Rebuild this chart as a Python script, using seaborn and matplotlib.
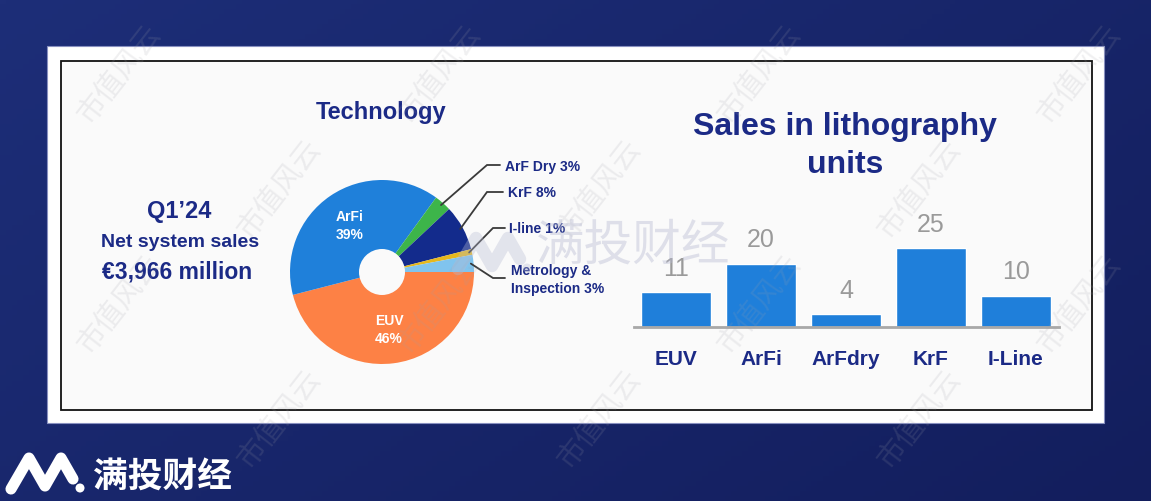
import numpy as np
import matplotlib
matplotlib.use('Agg')
import matplotlib.pyplot as plt
import seaborn as sns
from matplotlib.patches import Rectangle, Circle

# ---------------- data ----------------
tech_labels = ['EUV', 'ArFi', 'ArF Dry', 'KrF', 'I-line', 'Metrology &\nInspection']
tech_share = [46, 39, 3, 8, 1, 3]
tech_colors = ['#fd8145', '#1f80da', '#3db54a', '#132b8c', '#e6b81e', '#80c4ee']
unit_cats = ['EUV', 'ArFi', 'ArFdry', 'KrF', 'I-Line']
unit_values = [11, 20, 4, 25, 10]
headline = ['Q1\u201924', 'Net system sales', '\u20ac3,966 million']

W, H = 1151, 502
NAVY = '#1b2a86'

sns.set_theme(style='white')
plt.rcParams['font.family'] = ['Liberation Sans', 'Noto Sans CJK SC', 'DejaVu Sans']

fig = plt.figure(figsize=(W / 100, H / 100), dpi=100)


def fbox(x, y, w, h):
    return [x / W, 1 - (y + h) / H, w / W, h / H]


# ---------------- background ----------------
bg = fig.add_axes([0, 0, 1, 1])
bg.set_xlim(0, W)
bg.set_ylim(H, 0)
bg.axis('off')
gx, gy = np.meshgrid(np.linspace(0, 1, 200), np.linspace(0, 1, 100))
t = np.clip(0.6 * gx + 0.4 * gy, 0, 1)[..., None]
c0 = np.array([0x1d, 0x2e, 0x78]) / 255
c1 = np.array([0x13, 0x1e, 0x5d]) / 255
grad = c0 * (1 - t) + c1 * t
bg.imshow(grad, extent=[0, W, H, 0], aspect='auto', zorder=0)
bg.add_patch(Rectangle((47, 47), 1057, 377, fc='white', ec='#8890c0', lw=0.8, zorder=1))
bg.add_patch(Rectangle((61, 62), 1031, 349, fc='#fafafa', ec='#111111', lw=1.3, zorder=2))

# ---------------- pie ----------------
PCX, PCY, PR = 382, 273, 92
ax_pie = fig.add_axes(fbox(PCX - 100, PCY - 100, 200, 200))
wedges, _ = ax_pie.pie(tech_share, colors=tech_colors, startangle=0, counterclock=False,
                       radius=1, wedgeprops=dict(linewidth=0))
ax_pie.set_xlim(-100 / PR, 100 / PR)
ax_pie.set_ylim(-100 / PR, 100 / PR)
ax_pie.set_aspect('equal')
ax_pie.axis('off')
ax_pie.add_patch(Circle((0, 0), 23 / PR, fc='#fafafa', ec='none', zorder=5))

# big labels inside wedges
for i in (0, 1):
    w = wedges[i]
    mid = np.deg2rad((w.theta1 + w.theta2) / 2)
    r = 0.62
    ax_pie.text(r * np.cos(mid), r * np.sin(mid), f'{tech_labels[i]}\n{tech_share[i]}%',
                ha='center', va='center', color='white', fontsize=10, fontweight='bold',
                linespacing=1.35, zorder=6)

# ---------------- overlay (pixel coords) ----------------
ov = fig.add_axes([0, 0, 1, 1])
ov.set_xlim(0, W)
ov.set_ylim(H, 0)
ov.axis('off')
ov.patch.set_alpha(0)

# leader lines for small wedges
elbows = {2: (487, 166, 500), 3: (487, 193, 503), 4: (493, 229, 505), 5: (493, 279, 505)}
text_pos = {2: (505, 167), 3: (508, 193), 4: (509, 229), 5: (511, 280)}
for i in (2, 3, 4, 5):
    w = wedges[i]
    mid = np.deg2rad((w.theta1 + w.theta2) / 2)
    sx = PCX + PR * 0.97 * np.cos(mid)
    sy = PCY - PR * 0.97 * np.sin(mid)
    ex, ey, hx = elbows[i]
    ov.plot([sx, ex, hx], [sy, ey, ey], color='#3a3a3a', lw=1.3, zorder=4,
            solid_joinstyle='miter')
    tx, ty = text_pos[i]
    ov.text(tx, ty, f'{tech_labels[i]} {tech_share[i]}%', ha='left', va='center',
            color=NAVY, fontsize=10, fontweight='bold', linespacing=1.3, zorder=4)

# titles & headline
ov.text(381, 112, 'Technology', ha='center', va='center', color=NAVY,
        fontsize=17, fontweight='bold')
ov.text(845, 127, 'Sales in lithography', ha='center', va='center', color=NAVY,
        fontsize=23, fontweight='bold')
ov.text(845, 165, 'units', ha='center', va='center', color=NAVY,
        fontsize=23, fontweight='bold')
ov.text(179, 212, headline[0], ha='center', va='center', color=NAVY,
        fontsize=17, fontweight='bold')
ov.text(180, 243, headline[1], ha='center', va='center', color=NAVY,
        fontsize=14, fontweight='bold')
ov.text(177, 272, headline[2], ha='center', va='center', color=NAVY,
        fontsize=16.5, fontweight='bold')

# ---------------- bar chart ----------------
BASE = 328
PX_PER_UNIT = 3.15
AX_H = 110
ax_bar = fig.add_axes(fbox(634, BASE - AX_H, 425, AX_H))
ax_bar.patch.set_alpha(0)
sns.barplot(x=unit_cats, y=unit_values, color='#1f7fda', saturation=1, width=0.82,
            ax=ax_bar, zorder=3)
ax_bar.set_xlim(-0.494, 4.506)
ax_bar.set_ylim(0, AX_H / PX_PER_UNIT)
for s in ('top', 'left', 'right'):
    ax_bar.spines[s].set_visible(False)
ax_bar.spines['bottom'].set_color('#a8a8a8')
ax_bar.spines['bottom'].set_linewidth(2)
ax_bar.spines['bottom'].set_zorder(4)
ax_bar.set_yticks([])
ax_bar.set_xlabel('')
ax_bar.set_ylabel('')
ax_bar.tick_params(axis='x', length=0, pad=16)
for lab in ax_bar.get_xticklabels():
    lab.set_fontsize(15)
    lab.set_fontweight('bold')
    lab.set_color(NAVY)
ax_bar.bar_label(ax_bar.containers[0], padding=9, color='#9a9a9a', fontsize=18)

# ---------------- watermarks ----------------
wm = fig.add_axes([0, 0, 1, 1])
wm.set_xlim(0, W)
wm.set_ylim(H, 0)
wm.axis('off')
wm.patch.set_alpha(0)

for row, yy in enumerate([75, 190, 305, 420]):
    shift = 0 if row % 2 == 0 else 160
    for k in range(-1, 5):
        xx = 120 + shift + 320 * k
        if 60 < xx < W - 50:
            wm.text(xx, yy, '市值风云', ha='center', va='center', rotation=52,
                    fontsize=21, color='#a0a0a8', alpha=0.16, fontweight='light',
                    family=['Noto Sans CJK SC'], zorder=10)

# central brand watermark
wm.text(633, 246, '满投财经', ha='center', va='center', fontsize=35,
        color='#b8bbd2', alpha=0.42, family=['Noto Sans CJK SC'], zorder=11)


def draw_logo(ax, x0, y0, s, color, alpha, lw, z):
    xs = np.array([0, 18, 34, 50, 62]) * s + x0
    ys = np.array([0, -31, -3, -31, -10]) * s + y0
    ax.plot(xs, ys, color=color, alpha=alpha, lw=lw, solid_capstyle='round',
            solid_joinstyle='round', zorder=z)
    ax.add_patch(Circle((x0 + 69 * s, y0 - 1 * s), 4.5 * s, fc=color, ec='none',
                        alpha=alpha, zorder=z))


draw_logo(wm, 458, 270, 1.0, '#b8bbd2', 0.35, 9, 11)

# bottom-left brand
draw_logo(wm, 11, 490, 1.0, 'white', 1.0, 8, 12)
wm.text(93, 476, '满投财经', ha='left', va='center', fontsize=25, color='white',
        fontweight='bold', family=['Noto Sans CJK SC'], zorder=12)

fig.savefig('out.png', dpi=100)
